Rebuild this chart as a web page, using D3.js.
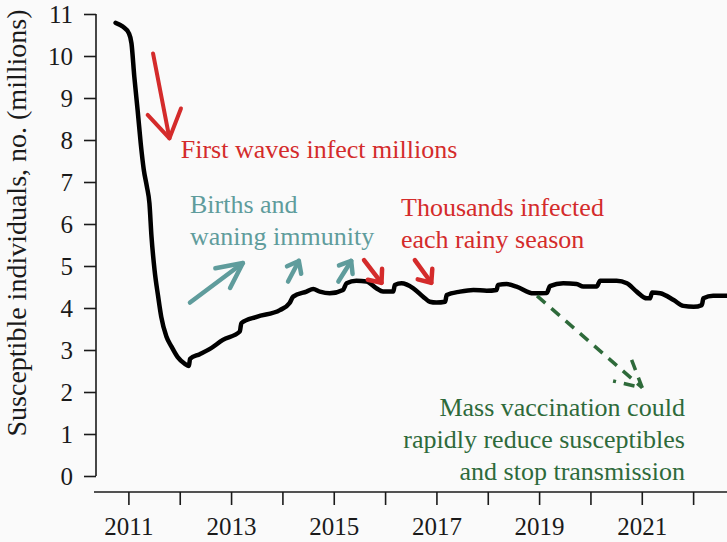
<!DOCTYPE html>
<html>
<head>
<meta charset="utf-8">
<script src="https://cdn.jsdelivr.net/npm/d3@7"></script>
<style>
  html, body { margin: 0; padding: 0; background: #fafafa; }
  svg { display: block; }
</style>
</head>
<body>
<svg id="chart" width="727" height="542"></svg>
<script>
// ---- data ----
const years = [2010.75, 2010.89, 2011.01, 2011.06, 2011.115, 2011.18, 2011.24, 2011.30, 2011.36, 2011.41,
  2011.45, 2011.51, 2011.58, 2011.64, 2011.74, 2011.84, 2011.96, 2012.10, 2012.18, 2012.20,
  2012.39, 2012.58, 2012.84, 2013.17, 2013.20, 2013.50, 2013.95, 2014.14, 2014.21, 2014.47,
  2014.60, 2014.73, 2014.92, 2015.18, 2015.25, 2015.44, 2015.64, 2015.83, 2015.96, 2016.16,
  2016.19, 2016.32, 2016.55, 2016.74, 2016.87, 2017.00, 2017.17, 2017.20, 2017.46, 2017.72,
  2017.98, 2018.17, 2018.20, 2018.37, 2018.56, 2018.89, 2019.15, 2019.21, 2019.47, 2019.73,
  2019.86, 2020.12, 2020.19, 2020.51, 2020.71, 2020.90, 2021.10, 2021.16, 2021.20, 2021.36,
  2021.62, 2021.81, 2022.01, 2022.17, 2022.20, 2022.39, 2022.66];
const susceptibles = [10.79, 10.70, 10.54, 10.30, 9.51, 8.71, 7.92, 7.29, 6.89, 6.49,
  5.70, 4.90, 4.27, 3.79, 3.32, 3.08, 2.83, 2.67, 2.62, 2.79,
  2.90, 3.02, 3.24, 3.44, 3.64, 3.79, 3.95, 4.12, 4.27, 4.39,
  4.45, 4.39, 4.35, 4.43, 4.59, 4.65, 4.63, 4.47, 4.39, 4.39,
  4.55, 4.59, 4.47, 4.27, 4.15, 4.13, 4.15, 4.31, 4.39, 4.43,
  4.41, 4.43, 4.55, 4.57, 4.51, 4.35, 4.36, 4.52, 4.59, 4.57,
  4.51, 4.51, 4.65, 4.65, 4.59, 4.39, 4.23, 4.23, 4.37, 4.35,
  4.19, 4.05, 4.03, 4.07, 4.23, 4.29, 4.29];

const xTickYears = [2011, 2012, 2013, 2014, 2015, 2016, 2017, 2018, 2019, 2020, 2021, 2022];
const xLabelYears = [2011, 2013, 2015, 2017, 2019, 2021];
const yTicks = [0, 1, 2, 3, 4, 5, 6, 7, 8, 9, 10, 11];
const yTitle = "Susceptible individuals, no. (millions)";

// annotations (data units): [x0, y0, x1(tip), y1(tip)]
const redBigArrow = [2011.48, 10.06, 2011.80, 8.04];
const tealArrows = [[2012.20, 4.13, 2013.23, 5.07], [2014.11, 4.63, 2014.32, 5.12], [2015.09, 4.63, 2015.34, 5.12]];
const redSmallArrows = [[2015.59, 5.14, 2015.93, 4.60], [2016.58, 5.14, 2016.90, 4.60]];
const greenArrow = [2018.96, 4.29, 2021.01, 2.10];
const labelFirst = { x: 2012.02, y: 7.58, lines: ["First waves infect millions"] };
const labelBirths = { x: 2012.20, y: 6.26, lines: ["Births and", "waning immunity"] };
const labelThousands = { x: 2016.31, y: 6.19, lines: ["Thousands infected", "each rainy season"] };
const labelVacc = { x: 2021.84, y: 1.43, lines: ["Mass vaccination could", "rapidly reduce susceptibles", "and stop transmission"] };

// ---- styles ----
const FONT = "'Liberation Serif', 'DejaVu Serif', serif";
const RED = "#d42b2b", TEAL = "#5f9c9c", GREEN = "#2e6a3a", INK = "#1a1a1a";

const svg = d3.select("#chart");
const x = d3.scaleLinear().domain([2010.33, 2022.66]).range([94, 727]);
const y = d3.scaleLinear().domain([0, 11]).range([476, 14]);

// y axis
const yAxis = d3.axisLeft(y).tickValues(yTicks).tickSize(12).tickPadding(11).tickFormat(d3.format("d"));
const gy = svg.append("g").attr("transform", "translate(96,0)").call(yAxis);
gy.select(".domain").attr("d", `M0,${y(0)}V${y(11)}`);

// x axis
const xAxis = d3.axisBottom(x).tickValues(xTickYears).tickSize(13).tickPadding(12)
  .tickFormat(d => xLabelYears.includes(d) ? String(d) : "");
const gx = svg.append("g").attr("transform", "translate(0,492)").call(xAxis);
gx.select(".domain").attr("d", `M${x.range()[0]},0H${x.range()[1]}`);

[gx, gy].forEach(g => {
  g.attr("font-family", null).attr("font-size", null);
  g.select(".domain").attr("stroke", INK).attr("stroke-width", 1.6);
  g.selectAll(".tick line").attr("stroke", INK).attr("stroke-width", 1.6);
  g.selectAll(".tick text").attr("fill", INK)
   .style("font-family", FONT).style("font-size", "25px");
});

// y title
svg.append("text")
  .attr("transform", "translate(26,223) rotate(-90)")
  .attr("text-anchor", "middle")
  .style("font-family", FONT).style("font-size", "28px")
  .attr("fill", INK)
  .text(yTitle);

// curve
const pts = years.map((yr, i) => [yr, susceptibles[i]]);
svg.append("path")
  .datum(pts)
  .attr("fill", "none")
  .attr("stroke", "#000")
  .attr("stroke-width", 4.5)
  .attr("stroke-linejoin", "round")
  .attr("stroke-linecap", "round")
  .attr("d", d3.line().x(d => x(d[0])).y(d => y(d[1])).curve(d3.curveMonotoneX));

// arrow helper
function arrow(a, color, width, headLen, headAng, dash) {
  const x0 = x(a[0]), y0 = y(a[1]), x1 = x(a[2]), y1 = y(a[3]);
  const ang = Math.atan2(y0 - y1, x0 - x1);
  const h = headAng * Math.PI / 180;
  const p1 = [x1 + headLen * Math.cos(ang + h), y1 + headLen * Math.sin(ang + h)];
  const p2 = [x1 + headLen * Math.cos(ang - h), y1 + headLen * Math.sin(ang - h)];
  const g = svg.append("g").attr("stroke", color).attr("stroke-width", width)
    .attr("fill", "none").attr("stroke-linecap", "round").attr("stroke-linejoin", "round");
  if (dash) g.attr("stroke-dasharray", dash).attr("stroke-linecap", "butt");
  g.append("path").attr("d", `M${x0},${y0}L${x1},${y1}`);
  g.append("path").attr("d", `M${p1[0]},${p1[1]}L${x1},${y1}L${p2[0]},${p2[1]}`);
}

arrow(redBigArrow, RED, 4, 32, 32);
tealArrows.forEach((a, i) => arrow(a, TEAL, 4.5, i === 0 ? 28 : 13, i === 0 ? 26 : 38));
redSmallArrows.forEach(a => arrow(a, RED, 4.5, 14, 40));
arrow(greenArrow, GREEN, 3.5, 30, 28, "11,8");

// labels
function label(l, color, anchor) {
  const t = svg.append("text")
    .attr("x", x(l.x)).attr("y", y(l.y))
    .attr("fill", color)
    .style("font-family", FONT).style("font-size", "26px")
    .attr("text-anchor", anchor);
  l.lines.forEach((s, i) => {
    t.append("tspan").attr("x", x(l.x)).attr("dy", i === 0 ? 0 : 32).text(s);
  });
}
label(labelFirst, RED, "start");
label(labelBirths, TEAL, "start");
label(labelThousands, RED, "start");
label(labelVacc, GREEN, "end");
</script>
</body>
</html>
